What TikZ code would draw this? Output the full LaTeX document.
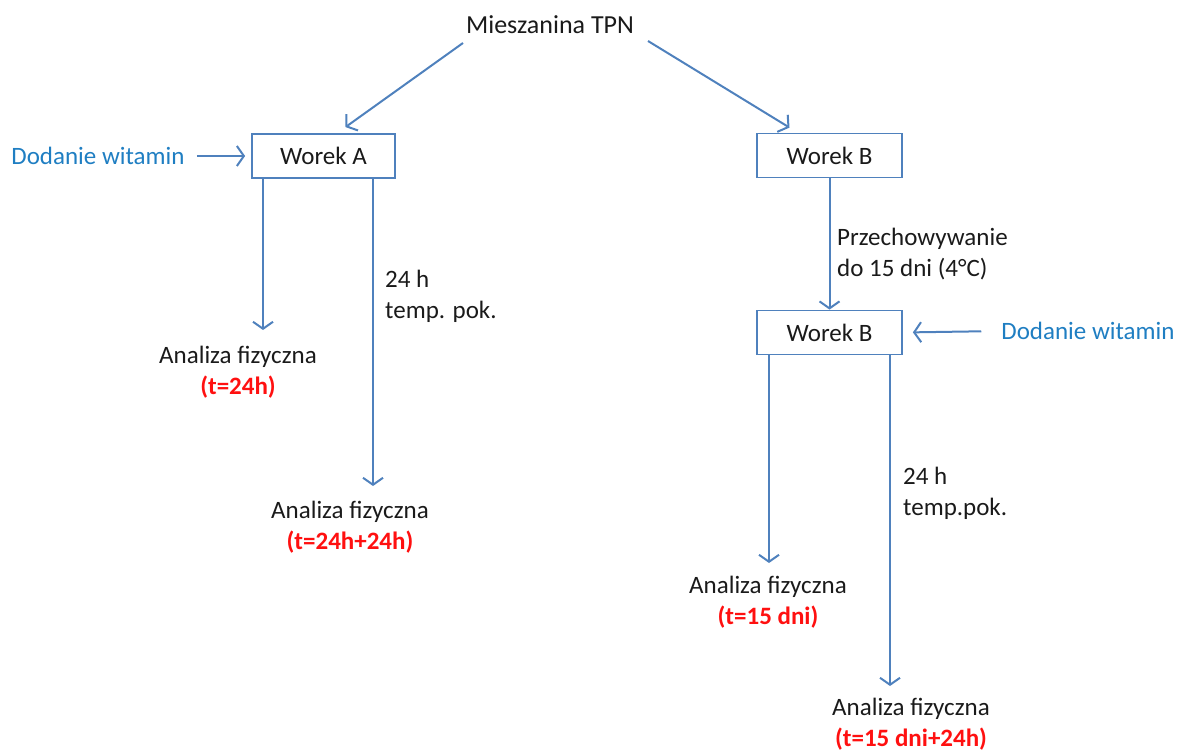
\documentclass[tikz,border=0pt]{standalone}
\usepackage{fontspec}
\setmainfont{Carlito}
\usetikzlibrary{arrows.meta,calc}
\definecolor{arrblue}{HTML}{4F81BD}
\definecolor{witblue}{HTML}{1F7EC2}
\definecolor{txt}{HTML}{1A1A1A}
\definecolor{redt}{HTML}{FF1010}
\begin{document}
\begin{tikzpicture}[x=1pt,y=-1pt, font=\fontsize{25}{31}\selectfont,
  arr/.style={draw=arrblue, line width=2pt, -{Straight Barb[length=7pt,width=20pt]}},
  box/.style={draw=arrblue, line width=1.8pt, minimum height=44pt, inner sep=0pt, text=txt},
  lbl/.style={align=left, anchor=west, inner sep=0pt, text=txt},
  res/.style={align=center, inner sep=0pt, text=txt},
  wit/.style={text=witblue, inner sep=0pt}]
\useasboundingbox (0,0) rectangle (1177,751);

\node[inner sep=0pt, text=txt, font=\fontsize{26}{31}\selectfont] (title) at (550,25) {Mieszanina TPN};

\node[box, minimum width=143pt] (WA) at (323.5,156) {Worek A};
\node[box, minimum width=145pt] (WB) at (829.5,155.5) {Worek B};
\node[box, minimum width=145pt] (WB2) at (829.5,332.5) {Worek B};

\node[wit] (DL) at (98,156) {Dodanie witamin};
\node[wit] (DR) at (1088,331) {Dodanie witamin};

\node[res] (AF1) at (238,372) {Analiza fizyczna\\{\color{redt}\bfseries (t=24h)}};
\node[res] (AF2) at (350,527) {Analiza fizyczna\\{\color{redt}\bfseries (t=24h+24h)}};
\node[res] (AF3) at (768,602) {Analiza fizyczna\\{\color{redt}\bfseries (t=15 dni)}};
\node[res] (AF4) at (911,724) {Analiza fizyczna\\{\color{redt}\bfseries (t=15 dni+24h)}};

\node[lbl] (L1) at (385,296) {24 h\\temp. pok.};
\node[lbl] (L2) at (837,254) {Przechowywanie\\do 15 dni (4°C)};
\node[lbl] (L3) at (903,493) {24 h\\temp.pok.};

% connectors
\coordinate (t1) at (463,43);
\coordinate (t2) at (648,41);
\draw[arr] (t1) -- ([xshift=22pt,yshift=6pt]WA.north);
\draw[arr] (t2) -- ([xshift=-40pt,yshift=5pt]WB.north);

\draw[arr, shorten <=12pt, shorten >=6pt] (DL.east) -- (WA.west);
\draw[arr, shorten <=20pt, shorten >=10pt] (DR.west) -- (WB2.east);

\draw[arr] (WB.south) -- (WB2.north);

\coordinate (a1) at (263,330);
\coordinate (a2) at (373,486);
\coordinate (a3) at (769,563);
\coordinate (a4) at (890,686);
\draw[arr] (WA.south -| a1) -- (a1);
\draw[arr] (WA.south -| a2) -- (a2);
\draw[arr] (WB2.south -| a3) -- (a3);
\draw[arr] (WB2.south -| a4) -- (a4);
\end{tikzpicture}
\end{document}
